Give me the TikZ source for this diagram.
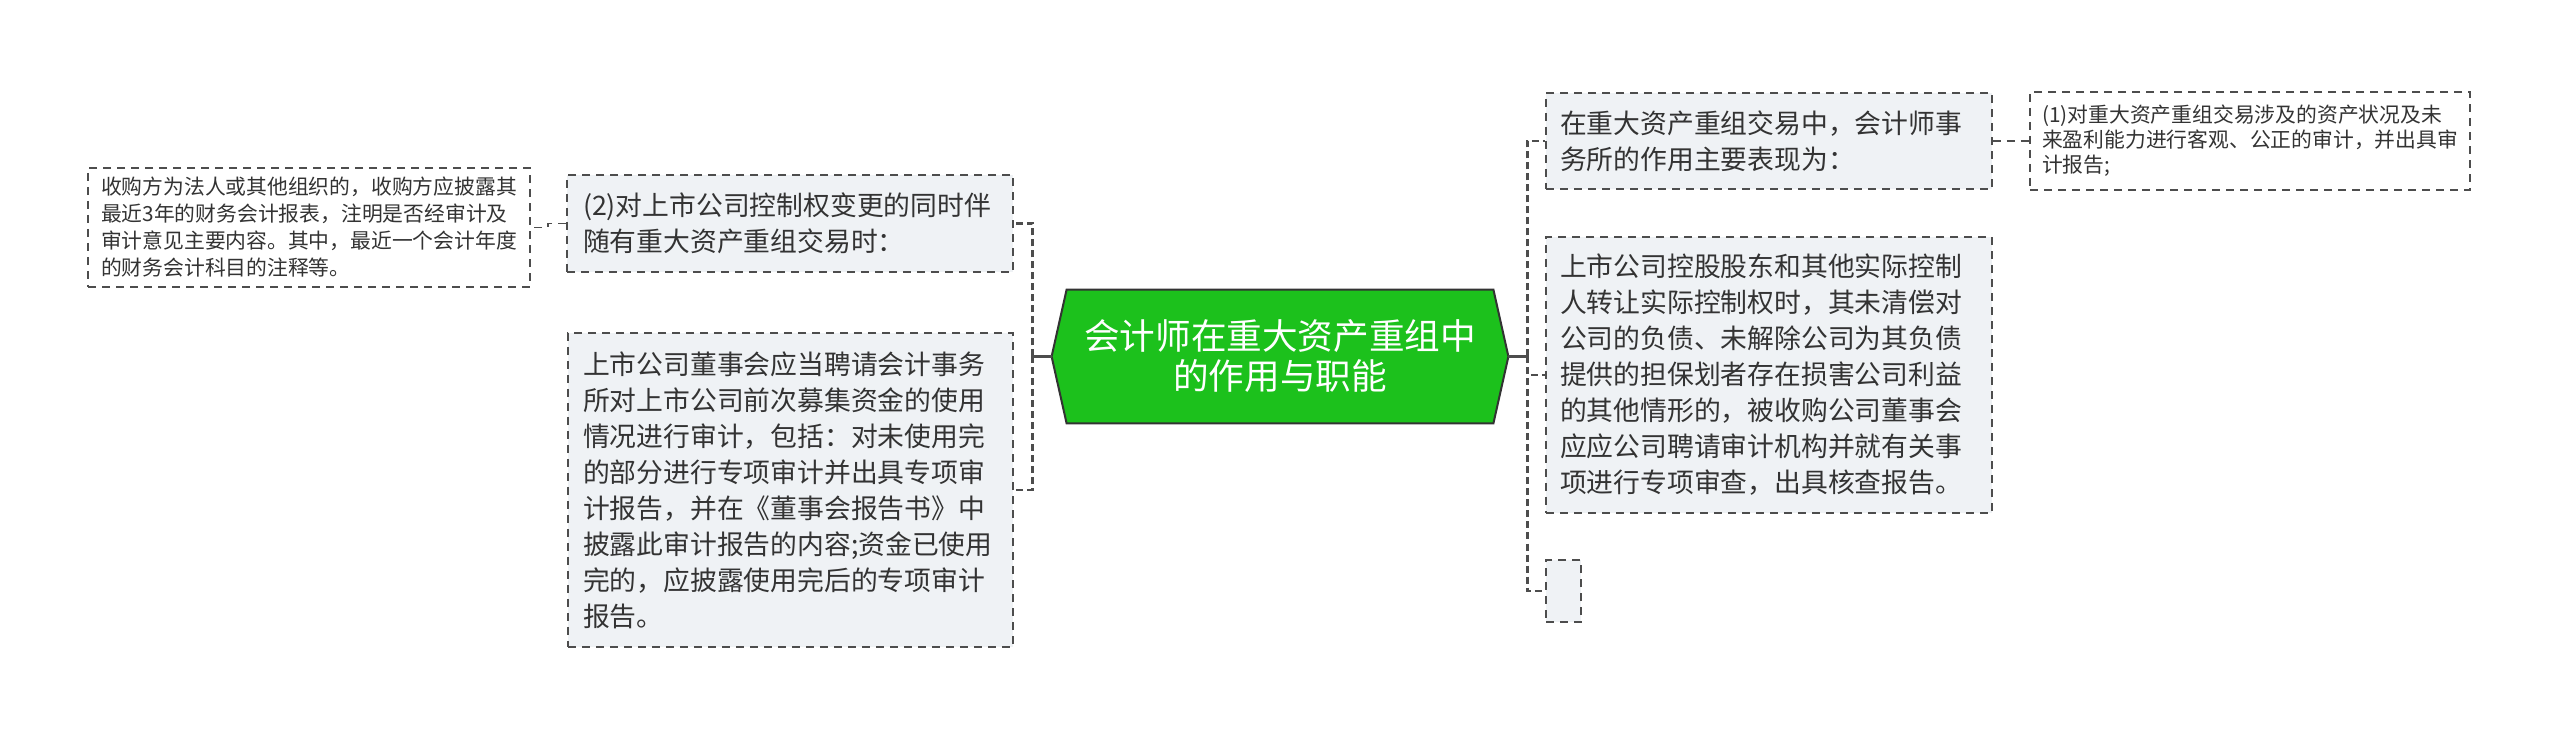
\documentclass[tikz,border=0pt]{standalone}
\usepackage{fontspec}
\setmainfont{Noto Sans CJK SC}
\usepackage{tikz}
\usetikzlibrary{calc,positioning,backgrounds}
\definecolor{leafgray}{HTML}{EFF2F5}
\definecolor{rootgreen}{HTML}{1CC11C}
\definecolor{linegray}{HTML}{4D4D4D}
\definecolor{textgray}{HTML}{333333}

\begin{document}
\begin{tikzpicture}[x=0.5pt,y=-0.5pt,every node/.style={text=textgray,inner sep=0pt},
  box/.style={draw=linegray,line width=0.8pt,dash pattern=on 4pt off 3pt,fill=leafgray,align=left,font=\fontsize{13.4}{18}\selectfont},
  note/.style={box,fill=white,font=\fontsize{10.4}{13.5}\selectfont},
  link/.style={draw=linegray,line width=1.3pt,dash pattern=on 3.5pt off 2pt},
  thinlink/.style={draw=linegray,line width=0.8pt,dash pattern=on 4pt off 3pt},
  stem/.style={draw=linegray,line width=1.1pt}]
\useasboundingbox (0,0) rectangle (2560,737);
\node[text=white,align=center,font=\fontsize{17.8}{20}\selectfont,minimum width=213pt,minimum height=66.5pt] (root) at (1280,356.5) {会计师在重大资产重组中\\的作用与职能};
\coordinate (rootL) at ($(root.west)+(-15,0)$);
\coordinate (rootR) at ($(root.east)+(15,0)$);
\begin{scope}[on background layer]
\draw[fill=rootgreen,draw=textgray,line width=1pt] (root.north west) -- (root.north east) -- (rootR) -- (root.south east) -- (root.south west) -- (rootL) -- cycle;
\end{scope}
\node[box,minimum width=223pt,minimum height=48.5pt,text width=207pt,inner xsep=8pt] (q2) at (790,223.5) {(2)对上市公司控制权变更的同时伴\\随有重大资产重组交易时：};
\node[box,minimum width=222.5pt,minimum height=157pt,text width=207.5pt,inner xsep=7.5pt] (qa) at (790.5,490) {上市公司董事会应当聘请会计事务\\所对上市公司前次募集资金的使用\\情况进行审计，包括：对未使用完\\的部分进行专项审计并出具专项审\\计报告，并在《董事会报告书》中\\披露此审计报告的内容;资金已使用\\完的，应披露使用完后的专项审计\\报告。};
\node[note,minimum width=221pt,minimum height=59.5pt,text width=208pt,inner xsep=6.5pt] (farL) at (309,227.5) {收购方为法人或其他组织的，收购方应披露其\\最近3年的财务会计报表，注明是否经审计及\\审计意见主要内容。其中，最近一个会计年度\\的财务会计科目的注释等。};
\node[box,minimum width=223pt,minimum height=48pt,text width=209pt,inner xsep=7pt] (r1) at (1769,141) {在重大资产重组交易中，会计师事\\务所的作用主要表现为：};
\node[box,minimum width=223pt,minimum height=138pt,text width=209pt,inner xsep=7pt] (r2) at (1769,375) {上市公司控股股东和其他实际控制\\人转让实际控制权时，其未清偿对\\公司的负债、未解除公司为其负债\\提供的担保划者存在损害公司利益\\的其他情形的，被收购公司董事会\\应应公司聘请审计机构并就有关事\\项进行专项审查，出具核查报告。};
\node[box,minimum width=17.5pt,minimum height=31pt] (r3) at (1563.5,591) {};
\node[note,font=\fontsize{10.4}{12.5}\selectfont,minimum width=220pt,minimum height=49pt,text width=208pt,inner xsep=6pt] (farR) at (2250,141) {(1)对重大资产重组交易涉及的资产状况及未\\来盈利能力进行客观、公正的审计，并出具审\\计报告;};
\coordinate (lbend) at ($(rootL)+(-19,0)$);
\coordinate (rbend) at ($(rootR)+(19,0)$);
\draw[stem] (rootL) -- (lbend); \draw[stem] (rootR) -- (rbend);
\draw[link] (lbend) |- (q2.east); \draw[link] (lbend) |- (qa.east);
\draw[link] (rbend) |- (r1.west); \draw[link] (rbend) |- (r2.west); \draw[link] (rbend) |- (r3.west);
\draw[thinlink] (q2.west) -- ++(-18,0) |- (farL.east);
\draw[thinlink] (r1.east) -- (farR.west);
\end{tikzpicture}
\end{document}
